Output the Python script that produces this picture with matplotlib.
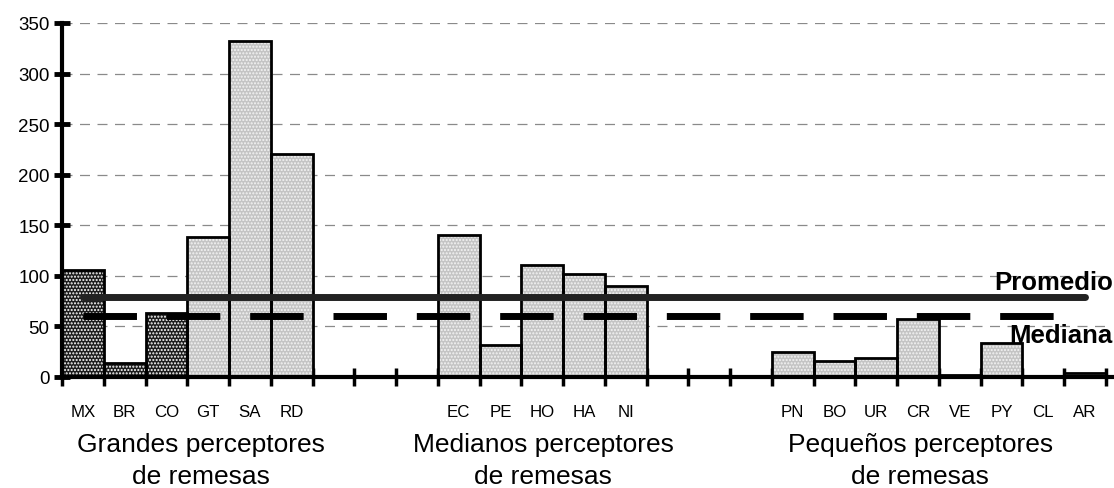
import matplotlib
matplotlib.use("Agg")
import matplotlib.pyplot as plt
from matplotlib.lines import Line2D

plt.rcParams['font.family'] = ['Liberation Sans', 'DejaVu Sans']

# Remittances per capita, by country group
grandes = ["MX", "BR", "CO", "GT", "SA", "RD"]
grandes_vals = [106, 14, 63, 138, 332, 220]
medianos = ["EC", "PE", "HO", "HA", "NI"]
medianos_vals = [140, 32, 111, 102, 90]
pequenos = ["PN", "BO", "UR", "CR", "VE", "PY", "CL", "AR"]
pequenos_vals = [25, 16, 19, 57, 2, 34, 0, 4]
dark_bars = ["MX", "BR", "CO"]

promedio = 79
mediana = 60

group_titles = [("Grandes perceptores", "de remesas"),
                ("Medianos perceptores", "de remesas"),
                ("Pequeños perceptores", "de remesas")]

# slot layout: three empty slots between groups
start_g, start_m, start_p = 0, 9, 17
n_slots = 25

labels, values, xs = [], [], []
for start, cats, vals in [(start_g, grandes, grandes_vals),
                          (start_m, medianos, medianos_vals),
                          (start_p, pequenos, pequenos_vals)]:
    for i, (c, v) in enumerate(zip(cats, vals)):
        labels.append(c)
        values.append(v)
        xs.append(start + i + 0.5)

fig = plt.figure(figsize=(11.14, 4.89), dpi=100)
ax = fig.add_axes([62 / 1114, 1 - 378 / 489, (1106 - 62) / 1114, (378 - 24) / 489])
ax.set_xlim(0, n_slots)
ax.set_ylim(0, 350)

# gridlines
for y in range(50, 351, 50):
    ax.axhline(y, color='#8a8a8a', lw=0.9, ls=(0, (8, 6)), zorder=0)

# bars: textured fill then outline
for x, v, c in zip(xs, values, labels):
    if c in dark_bars:
        fc, hc = '#1c1c1c', '#ffffff'
    else:
        fc, hc = '#c4c4c4', '#f4f4f4'
    ax.bar(x, v, width=1.0, facecolor=fc, edgecolor=hc, hatch='.....',
           linewidth=0, zorder=2)
    ax.bar(x, v, width=1.0, fill=False, edgecolor='black', linewidth=2.0, zorder=3)

# average and median lines
ax.add_line(Line2D([0.5, 24.5], [promedio, promedio], color='#222222', lw=5.0,
                   solid_capstyle='round', zorder=4))
ax.add_line(Line2D([0.5, 24.0], [mediana, mediana], color='black', lw=5.0,
                   ls=(0, (7.7, 4.3)), dash_capstyle='butt', zorder=4))

ax.text(1.0067, promedio + 8, "Promedio", transform=ax.get_yaxis_transform(),
        ha='right', va='baseline', fontsize=18.5, fontweight='bold', zorder=5,
        clip_on=False)
ax.text(1.0058, mediana - 25.4, "Mediana", transform=ax.get_yaxis_transform(),
        ha='right', va='baseline', fontsize=18.5, fontweight='bold', zorder=5,
        clip_on=False)

# spines
for s in ['top', 'right']:
    ax.spines[s].set_visible(False)
ax.spines['left'].set_linewidth(3.0)
ax.spines['bottom'].set_linewidth(3.0)
ax.spines['bottom'].set_zorder(6)
ax.spines['left'].set_zorder(6)
ax.spines['bottom'].set_bounds(0, n_slots + 0.2)

ax.set_yticks(range(0, 351, 50))
ax.tick_params(axis='y', direction='inout', length=12, width=3.5, labelsize=13.5,
               pad=3)

# x ticks at slot boundaries, labels at slot centres
ax.set_xticks(range(0, n_slots + 1))
ax.set_xticklabels([])
ax.tick_params(axis='x', direction='inout', length=13, width=2.5)
for x, c in zip(xs, labels):
    ax.text(x, -38.6, c, ha='center', va='baseline', fontsize=12.2)

group_x = [3.33, 11.52, 20.55]
for gx, (l1, l2) in zip(group_x, group_titles):
    ax.text(gx, -73.2, l1, ha='center', va='baseline', fontsize=19)
    ax.text(gx, -104.5, l2, ha='center', va='baseline', fontsize=19)

fig.savefig("out.png", dpi=100)
